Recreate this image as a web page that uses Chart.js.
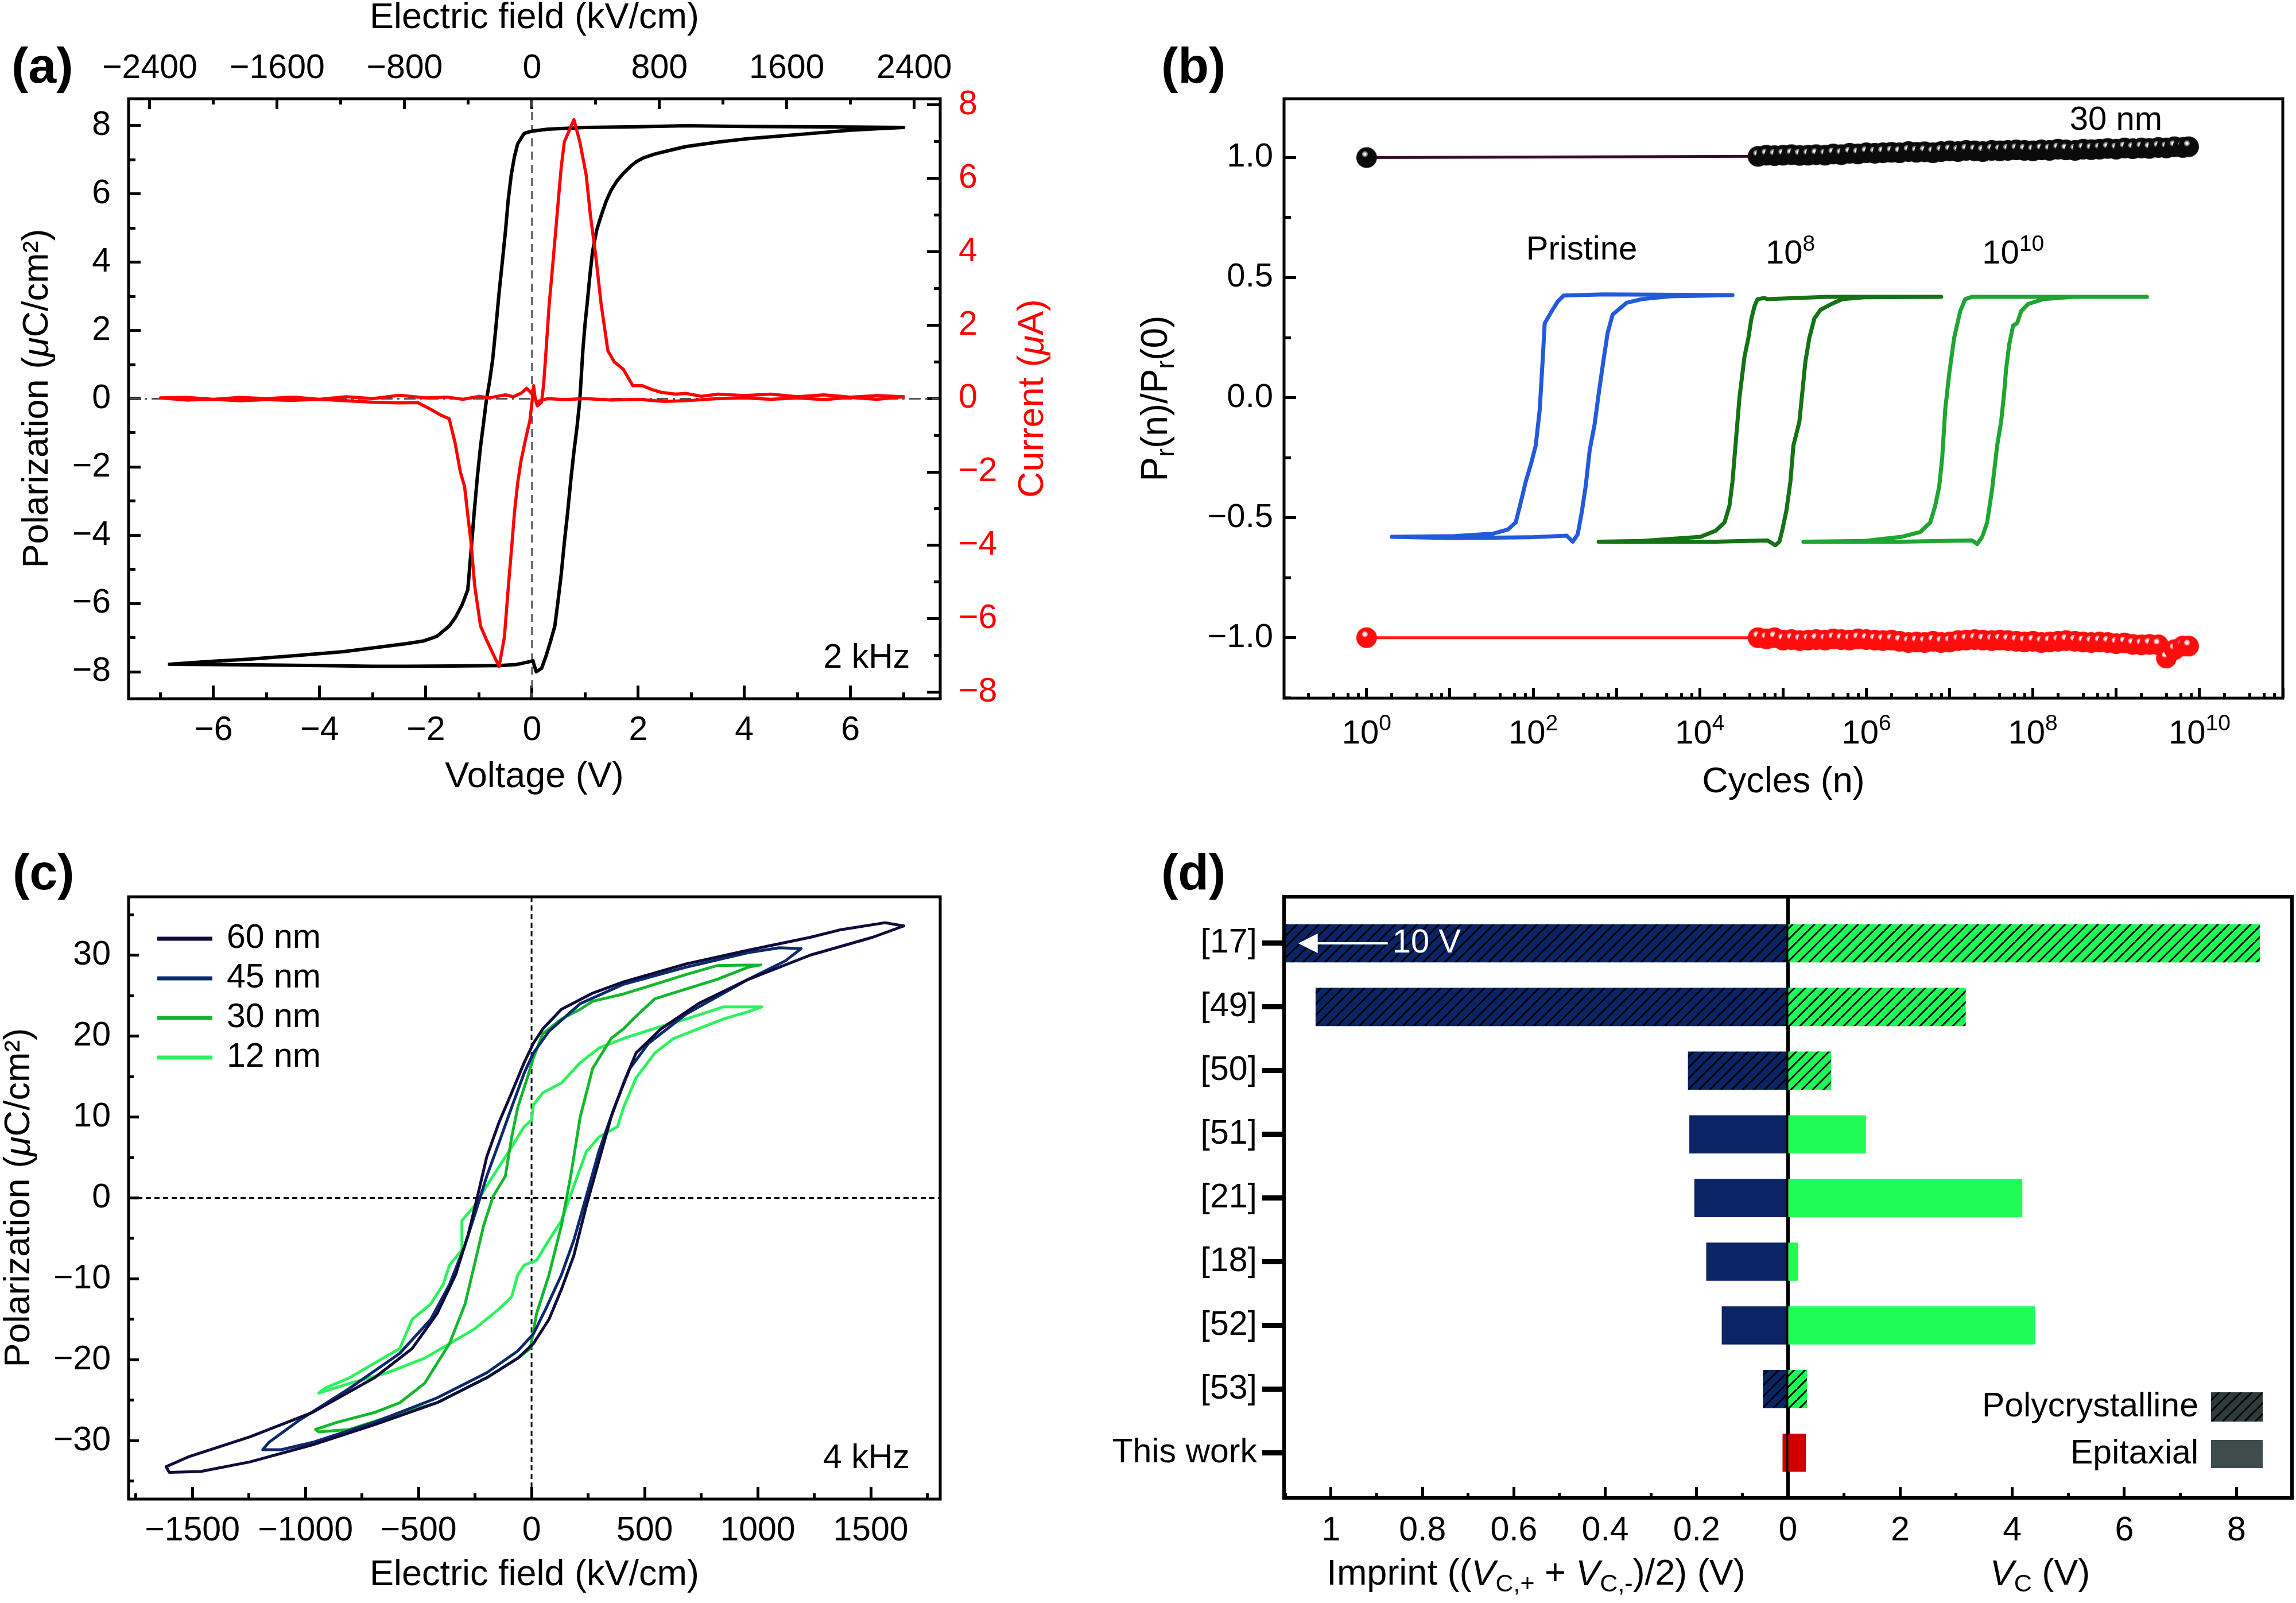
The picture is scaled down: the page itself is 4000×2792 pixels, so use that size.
<!DOCTYPE html>
<html>
<head>
<meta charset="utf-8">
<script src="https://cdn.jsdelivr.net/npm/chart.js@4.4.1/dist/chart.umd.min.js"></script>
<style>
  html, body { margin: 0; padding: 0; background: #fff; }
  .figure { position: relative; width: 4000px; height: 2792px; overflow: hidden; background: #fff; }
  .figure canvas { position: absolute; }
</style>
</head>
<body>
<div class="figure">
  <canvas id="chart-a" width="1900" height="1400" style="left:0;top:0"></canvas>
  <canvas id="chart-b" width="2050" height="1400" style="left:1950px;top:0"></canvas>
  <canvas id="chart-c" width="1900" height="1342" style="left:0;top:1450px"></canvas>
  <canvas id="chart-d-left" width="1290" height="1342" style="left:1850px;top:1450px"></canvas>
  <canvas id="chart-d-right" width="926" height="1342" style="left:3074px;top:1450px"></canvas>
</div>
<script>
// ===== Data =====

// (a) P-V loop [V, uC/cm2] and switching current [V, uA], 2 kHz
const pvLoop = [
  [0.02,-7.70],[0.08,-8.00],[0.18,-7.90],[0.26,-7.56],[0.35,-7.10],[0.43,-6.66],[0.50,-5.80],[0.55,-5.15],
  [0.61,-4.20],[0.67,-3.35],[0.73,-2.40],[0.79,-1.55],[0.85,-0.80],[0.90,-0.05],[0.93,0.70],[0.96,1.46],
  [1.00,2.20],[1.04,2.80],[1.09,3.60],[1.14,4.31],[1.22,4.95],[1.31,5.40],[1.40,5.80],[1.49,6.11],
  [1.60,6.38],[1.72,6.60],[1.85,6.80],[1.96,6.94],[2.10,7.06],[2.31,7.17],[2.60,7.28],[2.90,7.39],
  [3.50,7.52],[4.07,7.62],[4.70,7.70],[5.24,7.77],[6.00,7.87],[6.60,7.92],[7.00,7.95],
  [6.00,7.96],[5.00,7.97],[4.00,7.98],[2.90,8.00],[2.00,7.97],[1.00,7.95],[0.30,7.90],[0.10,7.86],
  [0.00,7.84],[-0.10,7.80],[-0.15,7.77],[-0.27,7.47],[-0.33,7.10],[-0.39,6.57],[-0.45,5.80],[-0.50,4.91],
  [-0.56,4.00],[-0.62,3.11],[-0.68,2.10],[-0.74,1.16],[-0.80,0.50],[-0.86,-0.05],[-0.92,-0.80],[-0.97,-1.40],
  [-1.03,-2.30],[-1.09,-3.35],[-1.15,-4.50],[-1.21,-5.60],[-1.32,-6.05],[-1.44,-6.40],[-1.56,-6.66],
  [-1.79,-6.96],[-2.05,-7.10],[-2.38,-7.18],[-3.00,-7.30],[-3.55,-7.41],[-4.40,-7.52],[-5.31,-7.63],
  [-6.10,-7.70],[-6.83,-7.78],
  [-6.00,-7.79],[-5.00,-7.80],[-4.00,-7.82],[-3.00,-7.84],[-2.38,-7.84],[-1.50,-7.83],[-0.62,-7.82],
  [-0.30,-7.79],[-0.15,-7.74],[0.02,-7.68]
];
const ivCurve = [
  [0.05,0.05],[-0.10,0.28],[-0.20,0.15],[-0.35,0.05],[-0.50,0.10],[-0.80,0.02],[-1.00,0.06],[-1.30,-0.02],
  [-1.60,0.04],[-2.00,0.02],[-2.50,0.09],[-3.00,0.00],[-3.50,0.05],[-4.00,-0.02],[-4.50,0.04],[-5.00,0.00],
  [-5.50,0.03],[-6.00,-0.02],[-6.50,0.03],[-7.00,0.02],
  [-6.50,-0.04],[-6.00,-0.02],[-5.50,-0.06],[-5.00,-0.03],[-4.50,-0.05],[-4.00,-0.02],[-3.50,-0.06],
  [-3.00,-0.10],[-2.50,-0.12],[-2.15,-0.11],[-1.90,-0.30],[-1.72,-0.45],[-1.56,-0.55],[-1.45,-1.20],
  [-1.35,-2.00],[-1.27,-2.40],[-1.20,-3.30],[-1.15,-3.90],[-1.08,-5.10],[-0.97,-6.20],[-0.85,-6.60],
  [-0.72,-7.00],[-0.62,-7.30],[-0.52,-6.50],[-0.45,-5.20],[-0.38,-4.00],[-0.33,-3.10],[-0.27,-2.30],
  [-0.21,-1.72],[-0.12,-1.10],[-0.04,-0.60],[0.00,-0.10],[0.03,0.35],[0.06,0.00],
  [0.10,-0.20],[0.18,-0.10],[0.22,0.40],[0.26,1.20],[0.32,2.50],[0.40,3.80],[0.49,5.30],[0.55,6.30],
  [0.61,7.00],[0.70,7.30],[0.79,7.60],[0.90,7.00],[1.02,6.10],[1.10,5.00],[1.20,3.90],[1.30,2.60],
  [1.43,1.30],[1.55,1.00],[1.72,0.80],[1.90,0.35],[2.08,0.35],[2.25,0.25],[2.43,0.17],[2.70,0.12],
  [2.90,0.14],[3.20,0.06],[3.50,0.12],[4.00,0.08],[4.50,0.12],[5.00,0.05],[5.50,0.10],[6.00,0.04],
  [6.50,0.08],[7.00,0.05],
  [6.50,-0.02],[6.00,0.03],[5.50,-0.03],[5.00,0.02],[4.50,-0.02],[4.00,0.02],[3.50,0.00],[3.00,-0.05],
  [2.50,-0.08],[2.00,-0.02],[1.50,-0.04],[1.00,0.00],[0.60,-0.03],[0.30,0.00],[0.10,-0.08]
];
const kvPerVolt = 333.33; // top axis: field for the 30 nm film

// (b) endurance, Pr(n)/Pr(0)
const cycles = [1,
  5.0e4,6.3e4,7.9e4,
  1.0e5,1.26e5,1.58e5,2.0e5,2.5e5,3.2e5,4.0e5,5.0e5,6.3e5,7.9e5,
  1.0e6,1.26e6,1.58e6,2.0e6,2.5e6,3.2e6,4.0e6,5.0e6,6.3e6,7.9e6,
  1.0e7,1.26e7,1.58e7,2.0e7,2.5e7,3.2e7,4.0e7,5.0e7,6.3e7,7.9e7,
  1.0e8,1.26e8,1.58e8,2.0e8,2.5e8,3.2e8,4.0e8,5.0e8,6.3e8,7.9e8,
  1.0e9,1.26e9,1.58e9,2.0e9,2.5e9,3.2e9,4.0e9,5.0e9,6.3e9,7.4e9];
const prTop = [1.0,
  1.005,1.010,1.008,
  1.010,1.012,1.009,1.010,1.012,1.010,1.015,1.012,1.018,1.015,
  1.020,1.018,1.020,1.022,1.020,1.025,1.022,1.024,1.020,1.025,
  1.028,1.025,1.030,1.028,1.025,1.030,1.028,1.030,1.032,1.030,
  1.028,1.032,1.030,1.035,1.032,1.030,1.035,1.033,1.035,1.038,
  1.035,1.040,1.037,1.040,1.038,1.042,1.040,1.045,1.042,1.045];
const prBottom = [-1.0,
  -1.000,-1.005,-1.000,
  -1.010,-1.008,-1.012,-1.010,-1.008,-1.010,-1.005,-1.008,-1.010,-1.005,
  -1.008,-1.010,-1.012,-1.010,-1.015,-1.020,-1.018,-1.020,-1.015,-1.020,
  -1.018,-1.012,-1.010,-1.008,-1.010,-1.012,-1.010,-1.012,-1.015,-1.018,
  -1.015,-1.020,-1.018,-1.015,-1.012,-1.015,-1.018,-1.020,-1.018,-1.020,
  -1.025,-1.022,-1.028,-1.030,-1.028,-1.030,-1.085,-1.050,-1.035,-1.035];
const cycleTickPowers = [0, 2, 4, 6, 8, 10];
// inset loops, x given in % of the plot width
const loopPristine = [
  [10.8,-0.58],[17.1,-0.577],[20.9,-0.567],[22.4,-0.55],[23.2,-0.52],[23.8,-0.42],[24.2,-0.35],[24.7,-0.28],
  [25.2,-0.20],[25.6,-0.05],[25.9,0.16],[26.1,0.31],[26.8,0.36],[27.4,0.40],[28.0,0.425],[32.0,0.43],
  [44.9,0.427],[38.7,0.422],[35.8,0.41],[34.3,0.395],[32.9,0.346],[32.4,0.27],[32.0,0.16],[31.5,0.015],
  [31.1,-0.11],[30.6,-0.22],[30.2,-0.37],[29.8,-0.48],[29.4,-0.57],[28.9,-0.60],[28.3,-0.575],
  [24.6,-0.582],[17.1,-0.585],[10.8,-0.58]
];
const loop1e8 = [
  [31.5,-0.60],[35.8,-0.597],[41.7,-0.58],[43.2,-0.555],[44.1,-0.52],[44.6,-0.45],[44.9,-0.35],[45.2,-0.20],
  [45.6,0.0],[46.1,0.17],[46.5,0.25],[46.8,0.33],[47.1,0.38],[47.4,0.41],[48.1,0.415],[48.4,0.41],
  [54.4,0.42],[65.8,0.42],[58.1,0.418],[55.9,0.41],[54.8,0.39],[53.7,0.365],[53.1,0.33],[52.6,0.25],
  [52.2,0.15],[51.6,-0.10],[51.0,-0.20],[50.7,-0.35],[50.3,-0.47],[49.9,-0.55],[49.6,-0.60],[49.2,-0.615],
  [48.4,-0.595],[43.2,-0.60],[31.5,-0.60]
];
const loop1e10 = [
  [52.0,-0.60],[58.1,-0.597],[61.8,-0.58],[63.7,-0.56],[64.7,-0.52],[65.2,-0.45],[65.6,-0.37],[65.9,-0.25],
  [66.2,-0.05],[66.6,0.10],[67.1,0.25],[67.7,0.36],[68.2,0.41],[68.9,0.42],[76.8,0.42],[86.4,0.42],
  [79.0,0.42],[76.0,0.41],[74.5,0.39],[73.8,0.36],[73.4,0.31],[73.0,0.30],[72.6,0.22],[72.3,0.12],
  [72.1,0.02],[71.8,-0.10],[71.4,-0.20],[70.9,-0.38],[70.4,-0.52],[69.9,-0.58],[69.4,-0.61],[68.9,-0.595],
  [61.8,-0.60],[52.0,-0.60]
];

// (c) P-E loops [kV/cm, uC/cm2], 4 kHz
const loop60 = [
  [1646,33.6],[1563,34.0],[1361,33.1],[1233,32.2],[958,30.6],[683,28.9],[407,26.7],[270,25.3],[132,23.3],
  [50,20.9],[8,19.1],[-33,16.7],[-88,13.0],[-143,9.4],[-198,5.1],[-239,0.2],[-281,-4.6],[-336,-9.5],
  [-418,-14.3],[-528,-18.6],[-694,-22.2],[-969,-26.5],[-1244,-29.5],[-1519,-32.0],[-1616,-33.2],[-1602,-33.9],
  [-1464,-33.8],[-1244,-32.6],[-969,-30.5],[-694,-28.0],[-418,-25.3],[-198,-22.2],[-61,-19.8],[8,-18.0],
  [77,-15.0],[132,-11.3],[187,-7.1],[242,-1.0],[297,4.5],[352,10.0],[407,14.2],[462,17.9],[573,20.9],
  [738,24.0],[958,27.0],[1233,30.0],[1508,32.2],[1646,33.6]
];
const loop45 = [
  [1192,30.8],[1096,30.9],[958,30.3],[683,28.5],[407,26.4],[215,24.0],[77,20.6],[8,17.9],[-33,15.4],
  [-88,11.2],[-143,6.9],[-198,2.7],[-239,-1.0],[-294,-5.8],[-363,-10.7],[-446,-15.0],[-583,-19.2],
  [-804,-23.5],[-1024,-27.4],[-1162,-30.2],[-1189,-31.1],[-1107,-31.1],[-969,-30.2],[-694,-27.7],
  [-418,-24.7],[-198,-21.6],[-61,-18.9],[8,-16.8],[63,-13.7],[132,-9.5],[187,-5.2],[242,0.2],[297,5.7],
  [366,11.2],[435,16.0],[517,19.1],[683,22.7],[958,27.0],[1123,29.3],[1192,30.8]
];
const loop30 = [
  [1013,28.8],[820,28.7],[683,27.6],[545,26.4],[407,25.2],[270,24.3],[215,23.3],[132,22.1],[50,20.3],
  [8,17.3],[-19,14.8],[-61,11.2],[-88,7.5],[-116,2.7],[-170,0.2],[-212,-3.4],[-253,-8.3],[-294,-13.1],
  [-363,-18.0],[-473,-22.9],[-583,-25.3],[-694,-26.5],[-859,-27.7],[-955,-28.6],[-941,-28.9],[-804,-28.6],
  [-639,-27.1],[-418,-25.3],[-198,-22.2],[-61,-19.8],[-6,-18.6],[22,-14.3],[77,-9.5],[132,-3.4],[173,2.7],
  [215,10.0],[270,16.0],[352,19.7],[407,20.9],[449,22.1],[545,24.6],[683,25.8],[820,27.0],[958,28.5],[1013,28.8]
];
const loop12 = [
  [1018,23.6],[848,23.6],[683,22.1],[573,21.2],[407,19.7],[297,18.5],[215,16.7],[132,14.2],[50,13.0],
  [8,11.5],[0,9.6],[-33,8.8],[-88,6.3],[-143,3.9],[-198,1.5],[-253,-1.0],[-308,-2.8],[-308,-6.4],
  [-363,-8.3],[-391,-10.7],[-446,-13.1],[-528,-15.0],[-583,-18.6],[-694,-20.4],[-804,-22.2],[-914,-23.5],
  [-941,-24.1],[-804,-22.9],[-639,-21.6],[-473,-19.8],[-363,-18.0],[-253,-16.2],[-143,-13.7],[-88,-12.2],
  [-61,-9.5],[-33,-8.3],[22,-7.7],[77,-5.2],[132,-2.8],[187,1.5],[242,5.7],[297,7.5],[380,8.8],[407,11.2],
  [462,14.8],[545,17.9],[628,19.7],[738,20.9],[848,22.1],[958,23.0],[1018,23.6]
];
const thicknessLabels = ["60 nm", "45 nm", "30 nm", "12 nm"];

// (d) literature comparison
const refs = ["[17]", "[49]", "[50]", "[51]", "[21]", "[18]", "[52]", "[53]", "This work"];
const imprint = [10, 1.034, 0.219, 0.216, 0.205, 0.179, 0.145, 0.055, 0.012];
const coerciveV = [8.42, 3.17, 0.77, 1.39, 4.18, 0.18, 4.41, 0.34, 0.32];
const filmType = ["poly", "poly", "poly", "epi", "epi", "epi", "epi", "poly", "this"];

// ===== Helpers =====
const FONT = "'Liberation Sans', Arial, Helvetica, sans-serif";
Chart.defaults.font.family = FONT;
Chart.defaults.color = "#000";

const toPoints = (pairs) => pairs.map(([x, y]) => ({ x, y }));
const minus = (v) => String(v).replace("-", "\u2212");
const fixWidth = (w) => (scale) => { scale.width = w; };
const fixHeight = (h) => (scale) => { scale.height = h; };
const isSide = (pos) => pos === "left" || pos === "right";

// ticks at every multiple of step inside the axis range
const stepTicks = (step) => (scale) => {
  const ticks = [];
  for (let k = Math.ceil(scale.min / step - 1e-9); k * step <= scale.max + 1e-9; k++) {
    ticks.push({ value: Number((k * step).toFixed(6)) });
  }
  scale.ticks = ticks;
};

function drawRich(ctx, parts, x, y, size, opts = {}) {
  const { rotate = 0, color = "#000", align = "center" } = opts;
  const fontOf = (p) =>
    `${p.italic ? "italic " : ""}${p.bold ? "bold " : ""}${p.sub || p.sup ? Math.round(size * 0.68) : size}px ${FONT}`;
  ctx.save();
  ctx.translate(x, y);
  ctx.rotate(rotate);
  ctx.fillStyle = color;
  ctx.textBaseline = "middle";
  ctx.textAlign = "left";
  let total = 0;
  parts.forEach((p) => { ctx.font = fontOf(p); p.w = ctx.measureText(p.t).width; total += p.w; });
  let cx = align === "center" ? -total / 2 : align === "right" ? -total : 0;
  parts.forEach((p) => {
    ctx.font = fontOf(p);
    const dy = p.sub ? size * 0.28 : p.sup ? -size * 0.3 : 0;
    ctx.fillText(p.t, cx, dy);
    cx += p.w;
  });
  ctx.restore();
}

function framePlugin(sides, width) {
  return {
    id: "frame",
    afterDraw(chart) {
      const { ctx, chartArea: a } = chart;
      ctx.save();
      ctx.strokeStyle = "#000";
      ctx.lineWidth = width;
      ctx.lineCap = "square";
      ctx.beginPath();
      if (sides.includes("t")) { ctx.moveTo(a.left, a.top); ctx.lineTo(a.right, a.top); }
      if (sides.includes("b")) { ctx.moveTo(a.left, a.bottom); ctx.lineTo(a.right, a.bottom); }
      if (sides.includes("l")) { ctx.moveTo(a.left, a.top); ctx.lineTo(a.left, a.bottom); }
      if (sides.includes("r")) { ctx.moveTo(a.right, a.top); ctx.lineTo(a.right, a.bottom); }
      ctx.stroke();
      ctx.restore();
    },
  };
}

function zeroLines(xId, yId, color, vDash, hDash) {
  return {
    id: "zeroLines",
    beforeDatasetsDraw(chart) {
      const { ctx, chartArea: a, scales } = chart;
      const x0 = scales[xId].getPixelForValue(0);
      const y0 = scales[yId].getPixelForValue(0);
      ctx.save();
      ctx.strokeStyle = color;
      ctx.lineWidth = 3;
      ctx.setLineDash(vDash);
      ctx.beginPath(); ctx.moveTo(x0, a.top); ctx.lineTo(x0, a.bottom); ctx.stroke();
      ctx.setLineDash(hDash);
      ctx.beginPath(); ctx.moveTo(a.left, y0); ctx.lineTo(a.right, y0); ctx.stroke();
      ctx.restore();
    },
  };
}

// major ticks + labels, pointing into the plot
function axis(position, min, max, step, tick, box, ticks = {}, title) {
  return {
    type: "linear", position, min, max,
    grid: { drawOnChartArea: false, tickLength: -tick, tickWidth: 5, tickColor: "#000" },
    border: { display: false },
    ticks: {
      autoSkip: false, maxRotation: 0, minRotation: 0,
      font: { size: 59 }, color: "#000", callback: (v) => minus(v), ...ticks,
    },
    afterBuildTicks: stepTicks(step),
    title: title || { display: false },
    afterFit: isSide(position) ? fixWidth(box) : fixHeight(box),
  };
}

// minor ticks only, zero size so it sits on the frame
function minorAxis(position, min, max, step, tick) {
  return {
    type: "linear", position, min, max, weight: -10,
    grid: { drawOnChartArea: false, tickLength: -tick, tickWidth: 5, tickColor: "#000" },
    border: { display: false },
    ticks: { display: false },
    afterBuildTicks: stepTicks(step),
    afterFit: isSide(position) ? fixWidth(0) : fixHeight(0),
  };
}

const baseOptions = (padding) => ({
  responsive: false,
  animation: false,
  devicePixelRatio: 1,
  events: [],
  layout: { padding },
  plugins: { legend: { display: false }, tooltip: { enabled: false } },
});

const lineSet = (pairs, color, width, extra = {}) => ({
  data: toPoints(pairs),
  showLine: true,
  borderColor: color,
  borderWidth: width,
  pointRadius: 0,
  borderJoinStyle: "round",
  borderCapStyle: "round",
  ...extra,
});

// ===== Panel A =====
const chartA = document.querySelector("#chart-a");
if (chartA) {
  const vMin = -7.6, vMax = 7.69;
  new Chart(chartA, {
    type: "scatter",
    data: {
      datasets: [
        lineSet(ivCurve, "#ff0000", 5.5, { xAxisID: "x", yAxisID: "y2" }),
        lineSet(pvLoop, "#000000", 6, { xAxisID: "x", yAxisID: "y" }),
      ],
    },
    options: {
      ...baseOptions(0),
      scales: {
        x: axis("bottom", vMin, vMax, 2, 23, 183, { padding: 43 }, {
          display: true, text: "Voltage (V)", font: { size: 63 }, padding: { top: 0, bottom: 9 },
        }),
        xMinor: minorAxis("bottom", vMin, vMax, 1, 11),
        xTop: axis("top", vMin * kvPerVolt, vMax * kvPerVolt, 800, 18, 172, { padding: 35 }, {
          display: true, text: "Electric field (kV/cm)", font: { size: 63, lineHeight: 1 }, padding: { top: 0, bottom: 0 },
        }),
        xTopMinor: minorAxis("top", vMin * kvPerVolt, vMax * kvPerVolt, 400, 10),
        y: axis("left", -8.79, 8.79, 2, 21, 224, { padding: 52 }),
        yMinor: minorAxis("left", -8.79, 8.79, 1, 12),
        y2: axis("right", -8.18, 8.17, 2, 23, 262, { padding: 55, color: "#ff0000" }),
        y2Minor: minorAxis("right", -8.18, 8.17, 1, 11),
      },
    },
    plugins: [
      zeroLines("x", "y", "#555", [14, 9], [20, 8, 4, 8]),
      framePlugin("tlbr", 5),
      {
        id: "textA",
        afterDraw(chart) {
          const { ctx, scales } = chart;
          drawRich(ctx, [{ t: "(a)", bold: true }], 20, 120, 88, { align: "left" });
          drawRich(ctx, [{ t: "Polarization (" }, { t: "\u03bc", italic: true }, { t: "C/cm\u00b2)" }],
            66, 694, 63, { rotate: -Math.PI / 2 });
          drawRich(ctx, [{ t: "Current (" }, { t: "\u03bc", italic: true }, { t: "A)" }],
            1800, 694, 63, { rotate: -Math.PI / 2, color: "#ff0000" });
          drawRich(ctx, [{ t: "2 kHz" }], scales.x.getPixelForValue(7.12), scales.y.getPixelForValue(-7.6), 59, { align: "right" });
        },
      },
    ],
  });
}
// End Panel A

// ===== Panel B =====
const chartB = document.querySelector("#chart-b");
if (chartB) {
  const sphere = (color, shine) => {
    const c = document.createElement("canvas");
    c.width = c.height = 38;
    const g = c.getContext("2d");
    g.fillStyle = color;
    g.beginPath(); g.arc(19, 19, 18, 0, Math.PI * 2); g.fill();
    g.fillStyle = shine;
    g.beginPath(); g.arc(16, 13, 5, 0, Math.PI * 2); g.fill();
    g.fillStyle = "#ffffff";
    g.beginPath(); g.arc(16, 13, 2.6, 0, Math.PI * 2); g.fill();
    return c;
  };
  const mantissa = (v) => v / Math.pow(10, Math.floor(Math.log10(v) + 1e-9));
  const near = (m, list) => list.some((k) => Math.abs(m - k) < 1e-6);
  const nMin = 0.102, nMax = 1.0e11;

  new Chart(chartB, {
    type: "scatter",
    data: {
      datasets: [
        {
          data: cycles.map((n, i) => ({ x: n, y: prTop[i] })),
          showLine: true, borderColor: "#3a0c2c", borderWidth: 5,
          pointStyle: sphere("#0b0b0b", "#8d8d8d"), pointRadius: 18,
          xAxisID: "x", yAxisID: "y",
        },
        {
          data: cycles.map((n, i) => ({ x: n, y: prBottom[i] })),
          showLine: true, borderColor: "#ff1a1a", borderWidth: 5,
          pointStyle: sphere("#ff0d0d", "#ff9fb4"), pointRadius: 18,
          xAxisID: "x", yAxisID: "y",
        },
        lineSet(loopPristine, "#235adc", 7, { xAxisID: "xi", yAxisID: "y" }),
        lineSet(loop1e8, "#147314", 7, { xAxisID: "xi", yAxisID: "y" }),
        lineSet(loop1e10, "#1ea532", 7, { xAxisID: "xi", yAxisID: "y" }),
      ],
    },
    options: {
      ...baseOptions({ top: 172, right: 7 }),
      scales: {
        x: {
          type: "logarithmic", position: "bottom", min: nMin, max: nMax,
          grid: { drawOnChartArea: false, tickLength: -18, tickWidth: 5, tickColor: "#000" },
          border: { display: false },
          ticks: { display: false },
          afterBuildTicks: (s) => { s.ticks = s.ticks.filter((t) => near(mantissa(t.value), [1, 10])); },
          title: { display: true, text: "Cycles (n)", font: { size: 63 }, padding: { top: 0, bottom: 0 } },
          afterFit: fixHeight(184),
        },
        xMinor: {
          type: "logarithmic", position: "bottom", min: nMin, max: nMax, weight: -10,
          grid: { drawOnChartArea: false, tickLength: -9, tickWidth: 5, tickColor: "#000" },
          border: { display: false },
          ticks: { display: false },
          afterBuildTicks: (s) => { s.ticks = s.ticks.filter((t) => near(mantissa(t.value), [2, 4, 6, 8])); },
          afterFit: fixHeight(0),
        },
        xi: { type: "linear", display: false, min: 0, max: 100 },
        y: axis("left", -1.252, 1.245, 0.5, 21, 287, { padding: 40, font: { size: 58 }, callback: (v) => minus(v.toFixed(1)) }),
        yMinor: minorAxis("left", -1.252, 1.245, 0.25, 12),
      },
    },
    plugins: [
      framePlugin("tlbr", 5),
      {
        id: "textB",
        afterDraw(chart) {
          const { ctx, scales } = chart;
          drawRich(ctx, [{ t: "(b)", bold: true }], 73, 120, 88, { align: "left" });
          drawRich(ctx, [{ t: "P" }, { t: "r", sub: true }, { t: "(n)/P" }, { t: "r", sub: true }, { t: "(0)" }],
            65, 694, 64, { rotate: -Math.PI / 2 });
          cycleTickPowers.forEach((k) => {
            drawRich(ctx, [{ t: "10" }, { t: String(k), sup: true }], scales.x.getPixelForValue(Math.pow(10, k)), 1279, 58);
          });
          const at = (xv, yv) => [scales.xi.getPixelForValue(xv), scales.y.getPixelForValue(yv)];
          drawRich(ctx, [{ t: "30 nm" }], ...at(83.3, 1.155), 58);
          drawRich(ctx, [{ t: "Pristine" }], ...at(29.8, 0.613), 58);
          drawRich(ctx, [{ t: "10" }, { t: "8", sup: true }], ...at(50.7, 0.596), 58);
          drawRich(ctx, [{ t: "10" }, { t: "10", sup: true }], ...at(73.0, 0.596), 58);
        },
      },
    ],
  });
}
// End Panel B

// ===== Panel C =====
const chartC = document.querySelector("#chart-c");
if (chartC) {
  const eMin = -1782, eMax = 1807, pMin = -37.2, pMax = 37.2;
  const loopColors = ["#0f0b3b", "#0b2a6e", "#12b82c", "#2cf25c"];
  const loops = [loop60, loop45, loop30, loop12];
  new Chart(chartC, {
    type: "scatter",
    data: {
      datasets: loops.map((l, i) => lineSet(l, loopColors[i], 5, { xAxisID: "x", yAxisID: "y" })),
    },
    options: {
      ...baseOptions({ top: 112, right: 262 }),
      scales: {
        x: axis("bottom", eMin, eMax, 500, 21, 181, { padding: 41 }, {
          display: true, text: "Electric field (kV/cm)", font: { size: 63 }, padding: { top: 0, bottom: 11 },
        }),
        xMinor: minorAxis("bottom", eMin, eMax, 250, 10),
        y: axis("left", pMin, pMax, 10, 18, 224, { padding: 49 }),
        yMinor: minorAxis("left", pMin, pMax, 5, 9),
      },
    },
    plugins: [
      zeroLines("x", "y", "#000", [9, 6], [9, 6]),
      framePlugin("tlbr", 5),
      {
        id: "textC",
        afterDraw(chart) {
          const { ctx, scales, chartArea: a } = chart;
          drawRich(ctx, [{ t: "(c)", bold: true }], 22, 75, 88, { align: "left" });
          drawRich(ctx, [{ t: "Polarization (" }, { t: "\u03bc", italic: true }, { t: "C/cm\u00b2)" }],
            34, 636, 63, { rotate: -Math.PI / 2 });
          thicknessLabels.forEach((label, i) => {
            const y = a.top + 73 + i * 69;
            ctx.save();
            ctx.strokeStyle = loopColors[i];
            ctx.lineWidth = 7;
            ctx.beginPath(); ctx.moveTo(a.left + 50, y); ctx.lineTo(a.left + 146, y); ctx.stroke();
            ctx.restore();
            drawRich(ctx, [{ t: label }], a.left + 171, y, 59, { align: "left" });
          });
          drawRich(ctx, [{ t: "4 kHz" }], scales.x.getPixelForValue(1672), scales.y.getPixelForValue(-32.2), 59, { align: "right" });
        },
      },
    ],
  });
}
// End Panel C

// ===== Panel D =====
const chartDLeft = document.querySelector("#chart-d-left");
const chartDRight = document.querySelector("#chart-d-right");
if (chartDLeft && chartDRight) {
  const hatch = (canvas, base) => {
    const size = 19;
    const c = document.createElement("canvas");
    c.width = c.height = size;
    const g = c.getContext("2d");
    g.fillStyle = base;
    g.fillRect(0, 0, size, size);
    g.strokeStyle = "#000";
    g.lineWidth = 3;
    g.beginPath();
    [-1, 0, 1].forEach((k) => { g.moveTo(k * size, size); g.lineTo(k * size + size, 0); });
    g.stroke();
    return canvas.getContext("2d").createPattern(c, "repeat");
  };
  const navy = "#0a2466", green = "#1ffc56", red = "#d00000";
  const fills = (canvas, base) =>
    filmType.map((t) => (t === "this" ? red : t === "poly" ? hatch(canvas, base) : base));
  const refAxis = (show) => ({
    type: "linear", position: "left", reverse: true, min: -0.73, max: 8.71,
    offset: false, display: show,
    grid: { offset: false, drawOnChartArea: false, tickLength: 38, tickWidth: 9, tickColor: "#000" },
    border: { display: false },
    ticks: { autoSkip: false, padding: 9, font: { size: 59 }, callback: (v) => refs[v] ?? "" },
    afterBuildTicks: stepTicks(1),
    afterFit: show ? fixWidth(387) : undefined,
  });
  const bars = (values, canvas, base) => ({
    data: values.map((v, i) => ({ x: v, y: i })),
    backgroundColor: fills(canvas, base),
    borderWidth: 0,
    barPercentage: 0.6,
    categoryPercentage: 1,
  });

  // left half: imprint, reversed axis
  new Chart(chartDLeft, {
    type: "bar",
    data: { datasets: [bars(imprint, chartDLeft, navy)] },
    options: {
      ...baseOptions({ top: 112, right: 25 }),
      indexAxis: "y",
      scales: {
        x: {
          ...axis("bottom", 0, 1.103, 0.2, 19, 183, { padding: 41, callback: (v) => String(Number(v.toFixed(1))) }),
          reverse: true,
        },
        xMinor: { ...minorAxis("bottom", 0, 1.103, 0.1, 9), reverse: true },
        y: refAxis(true),
      },
    },
    plugins: [
      framePlugin("tlb", 6),
      framePlugin("r", 6),
      {
        id: "textDLeft",
        afterDraw(chart) {
          const { ctx, scales, chartArea: a } = chart;
          drawRich(ctx, [{ t: "(d)", bold: true }], 173, 75, 88, { align: "left" });
          drawRich(ctx, [
            { t: "Imprint ((" }, { t: "V", italic: true }, { t: "C,+", sub: true }, { t: " + " },
            { t: "V", italic: true }, { t: "C,-", sub: true }, { t: ")/2) (V)" },
          ], (a.left + a.right) / 2, 1293, 63);
          // arrow: [17] bar runs off scale
          const yPix = scales.y.getPixelForValue(0);
          const tip = scales.x.getPixelForValue(1.072);
          const tail = scales.x.getPixelForValue(0.876);
          ctx.save();
          ctx.strokeStyle = "#fff";
          ctx.fillStyle = "#fff";
          ctx.lineWidth = 4;
          ctx.beginPath(); ctx.moveTo(tip + 30, yPix); ctx.lineTo(tail, yPix); ctx.stroke();
          ctx.beginPath(); ctx.moveTo(tip, yPix); ctx.lineTo(tip + 34, yPix - 17); ctx.lineTo(tip + 34, yPix + 17); ctx.closePath(); ctx.fill();
          ctx.restore();
          drawRich(ctx, [{ t: "10 V" }], scales.x.getPixelForValue(0.866), yPix, 58, { align: "left", color: "#fff" });
        },
      },
    ],
  });

  // right half: coercive voltage (left padding covers the x-axis label padding)
  new Chart(chartDRight, {
    type: "bar",
    data: { datasets: [bars(coerciveV, chartDRight, green)] },
    options: {
      ...baseOptions({ top: 112, left: 41, right: 7 }),
      indexAxis: "y",
      scales: {
        x: axis("bottom", 0, 8.99, 2, 19, 183, { padding: 41, callback: (v) => (v === 0 ? "" : String(v)) }),
        xMinor: minorAxis("bottom", 0, 8.99, 1, 9),
        y: refAxis(false),
      },
    },
    plugins: [
      framePlugin("tbr", 6),
      {
        id: "textDRight",
        afterDraw(chart) {
          const { ctx, chartArea: a } = chart;
          drawRich(ctx, [{ t: "V", italic: true }, { t: "C", sub: true }, { t: " (V)" }], (a.left + a.right) / 2, 1293, 63);
          const legendRows = [
            { label: "Polycrystalline", fill: hatch(chartDRight, "#2e3b3b"), top: a.bottom - 184, h: 51 },
            { label: "Epitaxial", fill: "#3e4c4c", top: a.bottom - 101, h: 49 },
          ];
          legendRows.forEach((r) => {
            ctx.save();
            ctx.fillStyle = r.fill;
            ctx.fillRect(a.right - 141, r.top, 90, r.h);
            ctx.restore();
            drawRich(ctx, [{ t: r.label }], a.right - 163, r.top + r.h / 2, 59, { align: "right" });
          });
        },
      },
    ],
  });
}
// End Panel D
</script>
</body>
</html>
